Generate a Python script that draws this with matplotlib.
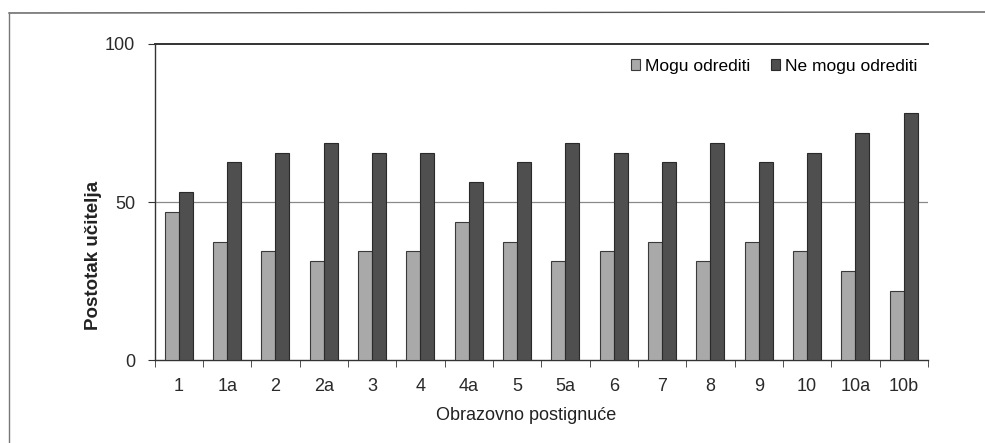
import matplotlib.pyplot as plt
from matplotlib.lines import Line2D
import numpy as np

plt.rcParams['font.family'] = ['Liberation Sans', 'DejaVu Sans']

# podaci
kategorije = ['1', '1a', '2', '2a', '3', '4', '4a', '5', '5a', '6', '7', '8', '9', '10', '10a', '10b']
mogu = [46.9, 37.5, 34.4, 31.2, 34.4, 34.4, 43.8, 37.5, 31.2, 34.4, 37.5, 31.2, 37.5, 34.4, 28.1, 21.9]
ne_mogu = [53.1, 62.5, 65.6, 68.8, 65.6, 65.6, 56.2, 62.5, 68.8, 65.6, 62.5, 68.8, 62.5, 65.6, 71.9, 78.1]
serije = ['Mogu odrediti', 'Ne mogu odrediti']

fig = plt.figure(figsize=(9.85, 4.43), dpi=100)
ax = fig.add_axes([0.157, 0.187, 0.785, 0.714])

x = np.arange(len(kategorije))
w = 0.29
ax.bar(x - w / 2, mogu, w, color='#a9a9a9', edgecolor='#3a3a3a', linewidth=0.8, label=serije[0], zorder=3)
ax.bar(x + w / 2, ne_mogu, w, color='#4f4f4f', edgecolor='#2a2a2a', linewidth=0.8, label=serije[1], zorder=3)

ax.set_xlim(-0.5, len(kategorije) - 0.5)
ax.set_ylim(0, 100)
ax.set_yticks([0, 50, 100])
ax.axhline(50, color='#8a8a8a', linewidth=0.9, zorder=1)
ax.axhline(100, color='#333333', linewidth=1.4, zorder=1, clip_on=False)

ax.set_xticks(x)
ax.set_xticklabels(kategorije, fontsize=13, color='#2a2a2a')
ax.set_xticks(np.arange(len(kategorije) + 1) - 0.5, minor=True)
ax.tick_params(axis='x', which='major', length=0, pad=13)
ax.tick_params(axis='x', which='minor', length=5, color='#333333', direction='out')
ax.tick_params(axis='y', length=5, color='#333333', labelsize=13, labelcolor='#2a2a2a', pad=9)

for s in ['top', 'right']:
    ax.spines[s].set_visible(False)
for s in ['left', 'bottom']:
    ax.spines[s].set_color('#333333')
    ax.spines[s].set_linewidth(1.0)

ax.set_ylabel('Postotak učitelja', fontsize=13.5, fontweight='bold', color='#222222')
ax.yaxis.set_label_coords(-0.068, 0.33)
ax.set_xlabel('Obrazovno postignuće', fontsize=13, color='#222222')
ax.xaxis.set_label_coords(0.48, -0.147)

ax.legend(loc='upper right', ncol=2, frameon=False, fontsize=12.5, handlelength=0.55, handleheight=0.55,
          handletextpad=0.25, columnspacing=1.2, bbox_to_anchor=(0.995, 0.975), borderaxespad=0)

# okvir oko grafikona
fig.add_artist(Line2D([9 / 985, 1.0], [1 - 13 / 443, 1 - 12 / 443], color='#555555', linewidth=1.0))
fig.add_artist(Line2D([9 / 985, 9 / 985], [1 - 13 / 443, 0.0], color='#777777', linewidth=1.0))

fig.savefig('out.png', dpi=100)
